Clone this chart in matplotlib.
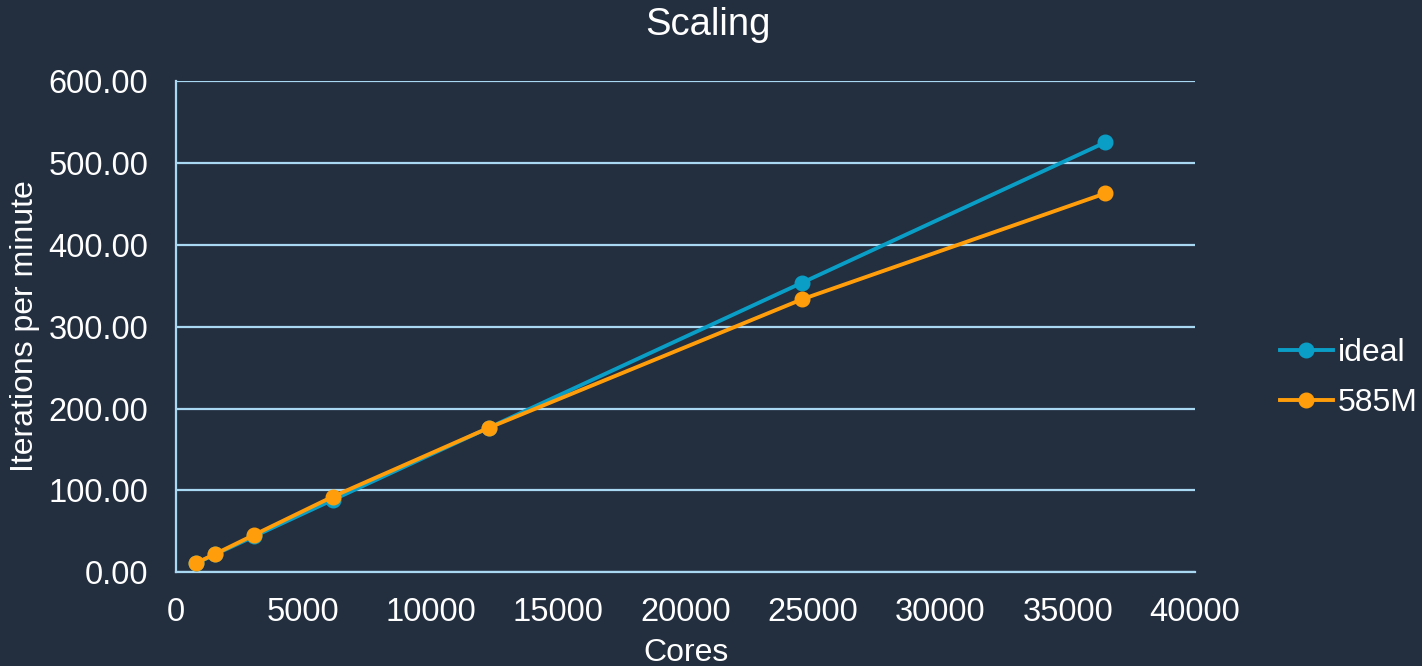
import matplotlib
matplotlib.use('Agg')
import matplotlib.pyplot as plt

# Strong scaling runs: cores vs. throughput
cores = [768, 1536, 3072, 6144, 12288, 24576, 36480]
ideal = [11.0, 22.1, 44.2, 88.4, 176.7, 353.4, 524.6]
run_585m = [11.2, 22.6, 46.0, 92.4, 176.6, 333.2, 462.4]

BG = '#232E3F'
GRID = '#A8D8F2'
FG = '#FFFFFF'
BLUE = '#0A9EC6'
ORANGE = '#FF9E0A'

plt.rcParams['font.family'] = ['Liberation Sans', 'DejaVu Sans']

fig = plt.figure(figsize=(14.22, 6.66), dpi=100, facecolor=BG)
ax = fig.add_axes([0.1238, 0.1404, 0.7166, 0.7387], facecolor=BG)

ax.plot(cores, ideal, '-o', color=BLUE, linewidth=2.8, markersize=10.5, label='ideal', zorder=3)
ax.plot(cores, run_585m, '-o', color=ORANGE, linewidth=2.8, markersize=10.5, label='585M', zorder=4)

ax.set_xlim(0, 40000)
ax.set_ylim(0, 600)
ax.set_xticks(range(0, 40001, 5000))
ax.set_yticks(range(0, 601, 100))
ax.set_yticklabels([f'{v:.2f}' for v in range(0, 601, 100)])
ax.grid(axis='y', color=GRID, linewidth=1.6)
ax.set_axisbelow(True)

for side in ['top', 'right']:
    ax.spines[side].set_visible(False)
for side in ['left', 'bottom']:
    ax.spines[side].set_color(GRID)
    ax.spines[side].set_linewidth(1.6)
ax.tick_params(length=0, colors=FG, labelsize=23.5)
ax.tick_params(axis='x', pad=17.5)
ax.tick_params(axis='y', pad=20)

ax.set_xlabel('Cores', color=FG, fontsize=23, labelpad=7)
ax.set_ylabel('Iterations per minute', color=FG, fontsize=23, labelpad=6)
fig.suptitle('Scaling', color=FG, fontsize=27.5, x=0.498, y=0.99)

ax.legend(loc='center left', bbox_to_anchor=(1.0834, 0.395), frameon=False,
          borderaxespad=0, borderpad=0, fontsize=23, labelcolor=FG,
          handlelength=1.65, handletextpad=0.15, labelspacing=0.62)

fig.savefig('out.png', dpi=100, facecolor=BG)
